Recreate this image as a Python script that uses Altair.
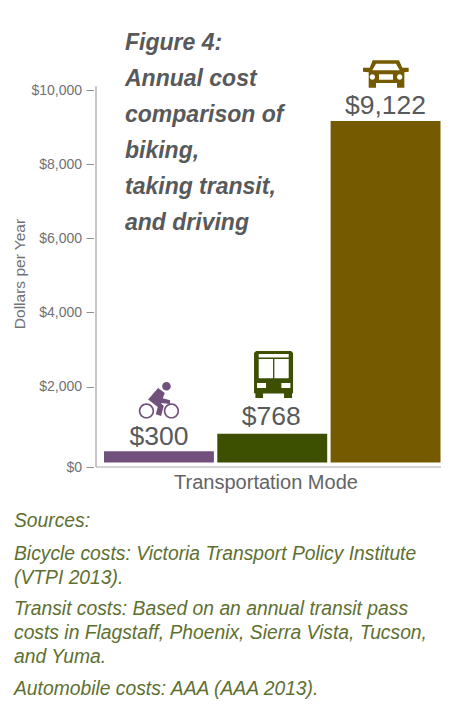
import altair as alt
import pandas as pd

modes = ["Bicycle", "Transit", "Automobile"]
costs = [300, 768, 9122]
cost_labels = ["$300", "$768", "$9,122"]
y_ticks = [0, 2000, 4000, 6000, 8000, 10000]
title_lines = ["Figure 4:", "Annual cost", "comparison of", "biking,", "taking transit,", "and driving"]
sources_1 = ["Sources:"]
sources_2 = ["Bicycle costs: Victoria Transport Policy Institute", "(VTPI 2013)."]
sources_3 = ["Transit costs: Based on an annual transit pass", "costs in Flagstaff, Phoenix, Sierra Vista, Tucson,", "and Yuma."]
sources_4 = ["Automobile costs: AAA (AAA 2013)."]
colors = ["#72507c", "#3d4f00", "#765a00"]

FONT = "Liberation Sans"
GRAY = "#58595b"
OLIVE = "#5e7031"
AXIS = "#8f8f8f"
AXIS_TEXT = "#707174"


def poly(pts):
    return "M" + "L".join(f"{x:.3f},{y:.3f}" for x, y in pts) + "Z"


def circle(cx, cy, r, cw=True):
    k = 0.5523 * r
    s = 1 if cw else -1
    return (f"M{cx + r:.3f},{cy:.3f}"
            f"C{cx + r:.3f},{cy + s * k:.3f} {cx + k:.3f},{cy + s * r:.3f} {cx:.3f},{cy + s * r:.3f}"
            f"C{cx - k:.3f},{cy + s * r:.3f} {cx - r:.3f},{cy + s * k:.3f} {cx - r:.3f},{cy:.3f}"
            f"C{cx - r:.3f},{cy - s * k:.3f} {cx - k:.3f},{cy - s * r:.3f} {cx:.3f},{cy - s * r:.3f}"
            f"C{cx + k:.3f},{cy - s * r:.3f} {cx + r:.3f},{cy - s * k:.3f} {cx + r:.3f},{cy:.3f}Z")


def icon(cx, cy, half, polys, holes, rings):
    """Icon outline normalised to the -1..1 unit box a custom symbol uses."""
    def n(p):
        return ((p[0] - cx) / half, (p[1] - cy) / half)
    d = ""
    for pts in polys:
        d += poly([n(p) for p in pts])
    for pts in holes:
        d += poly([n(p) for p in pts])
    for (x, y, r, cw) in rings:
        nx, ny = n((x, y))
        d += circle(nx, ny, r / half, cw)
    return d


car_path = icon(136.5, 71, 69,
    [[(97, 30), (176, 30), (186, 52), (205, 52), (205, 64), (192, 66), (192, 112), (170, 112),
      (170, 98), (107, 98), (107, 112), (85, 112), (85, 66), (68, 64), (68, 52), (88, 52)]],
    [[(107, 40), (96, 60), (178, 60), (167, 40)], [(116, 72), (116, 88), (158, 88), (158, 72)]],
    [(96, 80, 8, False), (178, 80, 8, False)])

bus_path = icon(551.5, 102.5, 70.5,
    [[(499, 32), (604, 32), (610, 38), (610, 158), (607, 160), (607, 173), (583, 173), (583, 160),
      (520, 160), (520, 173), (497, 173), (497, 160), (493, 158), (493, 38)]],
    [[(507, 41), (507, 52), (597, 52), (597, 41)],
     [(507, 56), (507, 114), (550, 114), (550, 56)],
     [(554, 56), (554, 114), (597, 114), (597, 56)],
     [(502, 128), (502, 143), (529, 143), (529, 128)],
     [(575, 128), (575, 143), (602, 143), (602, 128)]],
    [])

bike_path = icon(206.5, 180, 60,
    [[(204, 143), (224, 158), (218, 174), (240, 180), (240, 191), (212, 188), (221, 197),
      (213, 227), (197, 222), (203, 200), (174, 178)]],
    [],
    [(229, 138, 13, True),
     (169, 212, 23, True), (169, 212, 18, False),
     (244, 212, 23, True), (244, 212, 18, False)])

df = pd.DataFrame({"mode": modes, "cost": costs, "label": cost_labels})

x_enc = alt.X("mode:N", sort=modes,
              scale=alt.Scale(domain=modes, range=[8, 344.5], paddingInner=0.03, paddingOuter=0),
              axis=alt.Axis(title="Transportation Mode", labels=False, ticks=False, domain=False,
                            grid=False, titleFont=FONT, titleFontSize=20,
                            titleFontWeight="normal", titleColor="#636466", titlePadding=5, titleX=169.5))
bar_scale = alt.Scale(domain=[0, 10000], range=[371.5, -2.9])
y_bar = alt.Y("cost:Q", scale=bar_scale, axis=None)

axis_scale = alt.Scale(domain=[0, 2000, 8000, 10000], range=[376, 295.7, 73, -1])

axis_layer = alt.Chart(pd.DataFrame({"t": y_ticks})).mark_tick(opacity=0).encode(
    y=alt.Y("t:Q", scale=axis_scale,
            axis=alt.Axis(title="Dollars per Year", values=y_ticks, format="$,d", domain=False, grid=False,
                          offset=2.5, tickSize=7.5, tickColor=AXIS, tickWidth=1, labelPadding=4.5,
                          labelFont=FONT, labelFontSize=14, labelColor=AXIS_TEXT,
                          titleFont=FONT, titleFontSize=15.5, titleFontWeight="normal",
                          titleColor=AXIS_TEXT, titleX=-66, titleY=182.5)))

y_line = alt.Chart(pd.DataFrame({"a": [0], "b": [10100]})).mark_rule(color=AXIS, strokeWidth=1).encode(
    x=alt.value(0),
    y=alt.Y("a:Q", scale=axis_scale, axis=None),
    y2="b:Q")

x_line = alt.Chart(pd.DataFrame({"k": [0]})).mark_rule(color="#a5a5a5", strokeWidth=1).encode(
    x=alt.value(0), x2=alt.value(345), y=alt.value(376))

bars = alt.Chart(df).mark_bar().encode(
    x=x_enc,
    y=y_bar,
    y2=alt.datum(0),
    color=alt.Color("mode:N", scale=alt.Scale(domain=modes, range=colors), legend=None),
)

layers = [axis_layer, y_line, x_line, bars]

label_dy = [-6, -9, -7]
label_dx = [0, -1, 0]
icon_dy = [-51, -59.3, -47]
icon_dx = [0, 1.3, 0.3]
icon_box = [40, 47, 46]
icon_paths = [bike_path, bus_path, car_path]
for i, m in enumerate(modes):
    one = alt.Chart(df).transform_filter(alt.datum.mode == m)
    layers.append(one.mark_text(font=FONT, fontSize=26.5, color=GRAY, align="center",
                                baseline="alphabetic", dx=label_dx[i], dy=label_dy[i]).encode(
        x=x_enc, y=y_bar, text="label:N"))
    layers.append(one.mark_point(shape=icon_paths[i], size=icon_box[i] ** 2, filled=True, opacity=1,
                                 color=colors[i], strokeWidth=0, xOffset=icon_dx[i], yOffset=icon_dy[i]).encode(
        x=x_enc, y=y_bar))

title_text = alt.Chart(pd.DataFrame({"k": [0]})).mark_text(
    text=title_lines, font=FONT, fontSize=23, fontStyle="italic", fontWeight="bold",
    color="#58595b", align="left", baseline="alphabetic", lineHeight=36).encode(
    x=alt.value(29), y=alt.value(-41))
layers.append(title_text)

for lines, ypx in [(sources_1, 436), (sources_2, 469), (sources_3, 524), (sources_4, 604)]:
    layers.append(alt.Chart(pd.DataFrame({"k": [0]})).mark_text(
        text=lines, font=FONT, fontSize=19.3, fontStyle="italic", color=OLIVE,
        align="left", baseline="alphabetic", lineHeight=24).encode(
        x=alt.value(-82), y=alt.value(ypx)))

chart = alt.layer(*layers).resolve_scale(y="independent", color="independent").properties(
    width=345, height=376,
    autosize=alt.AutoSizeParams(type="none"),
    padding={"left": 88, "top": 83, "right": 10, "bottom": 232},
).configure_view(stroke=None)

chart.save("out.html", embed_options={"renderer": "svg", "actions": False})
